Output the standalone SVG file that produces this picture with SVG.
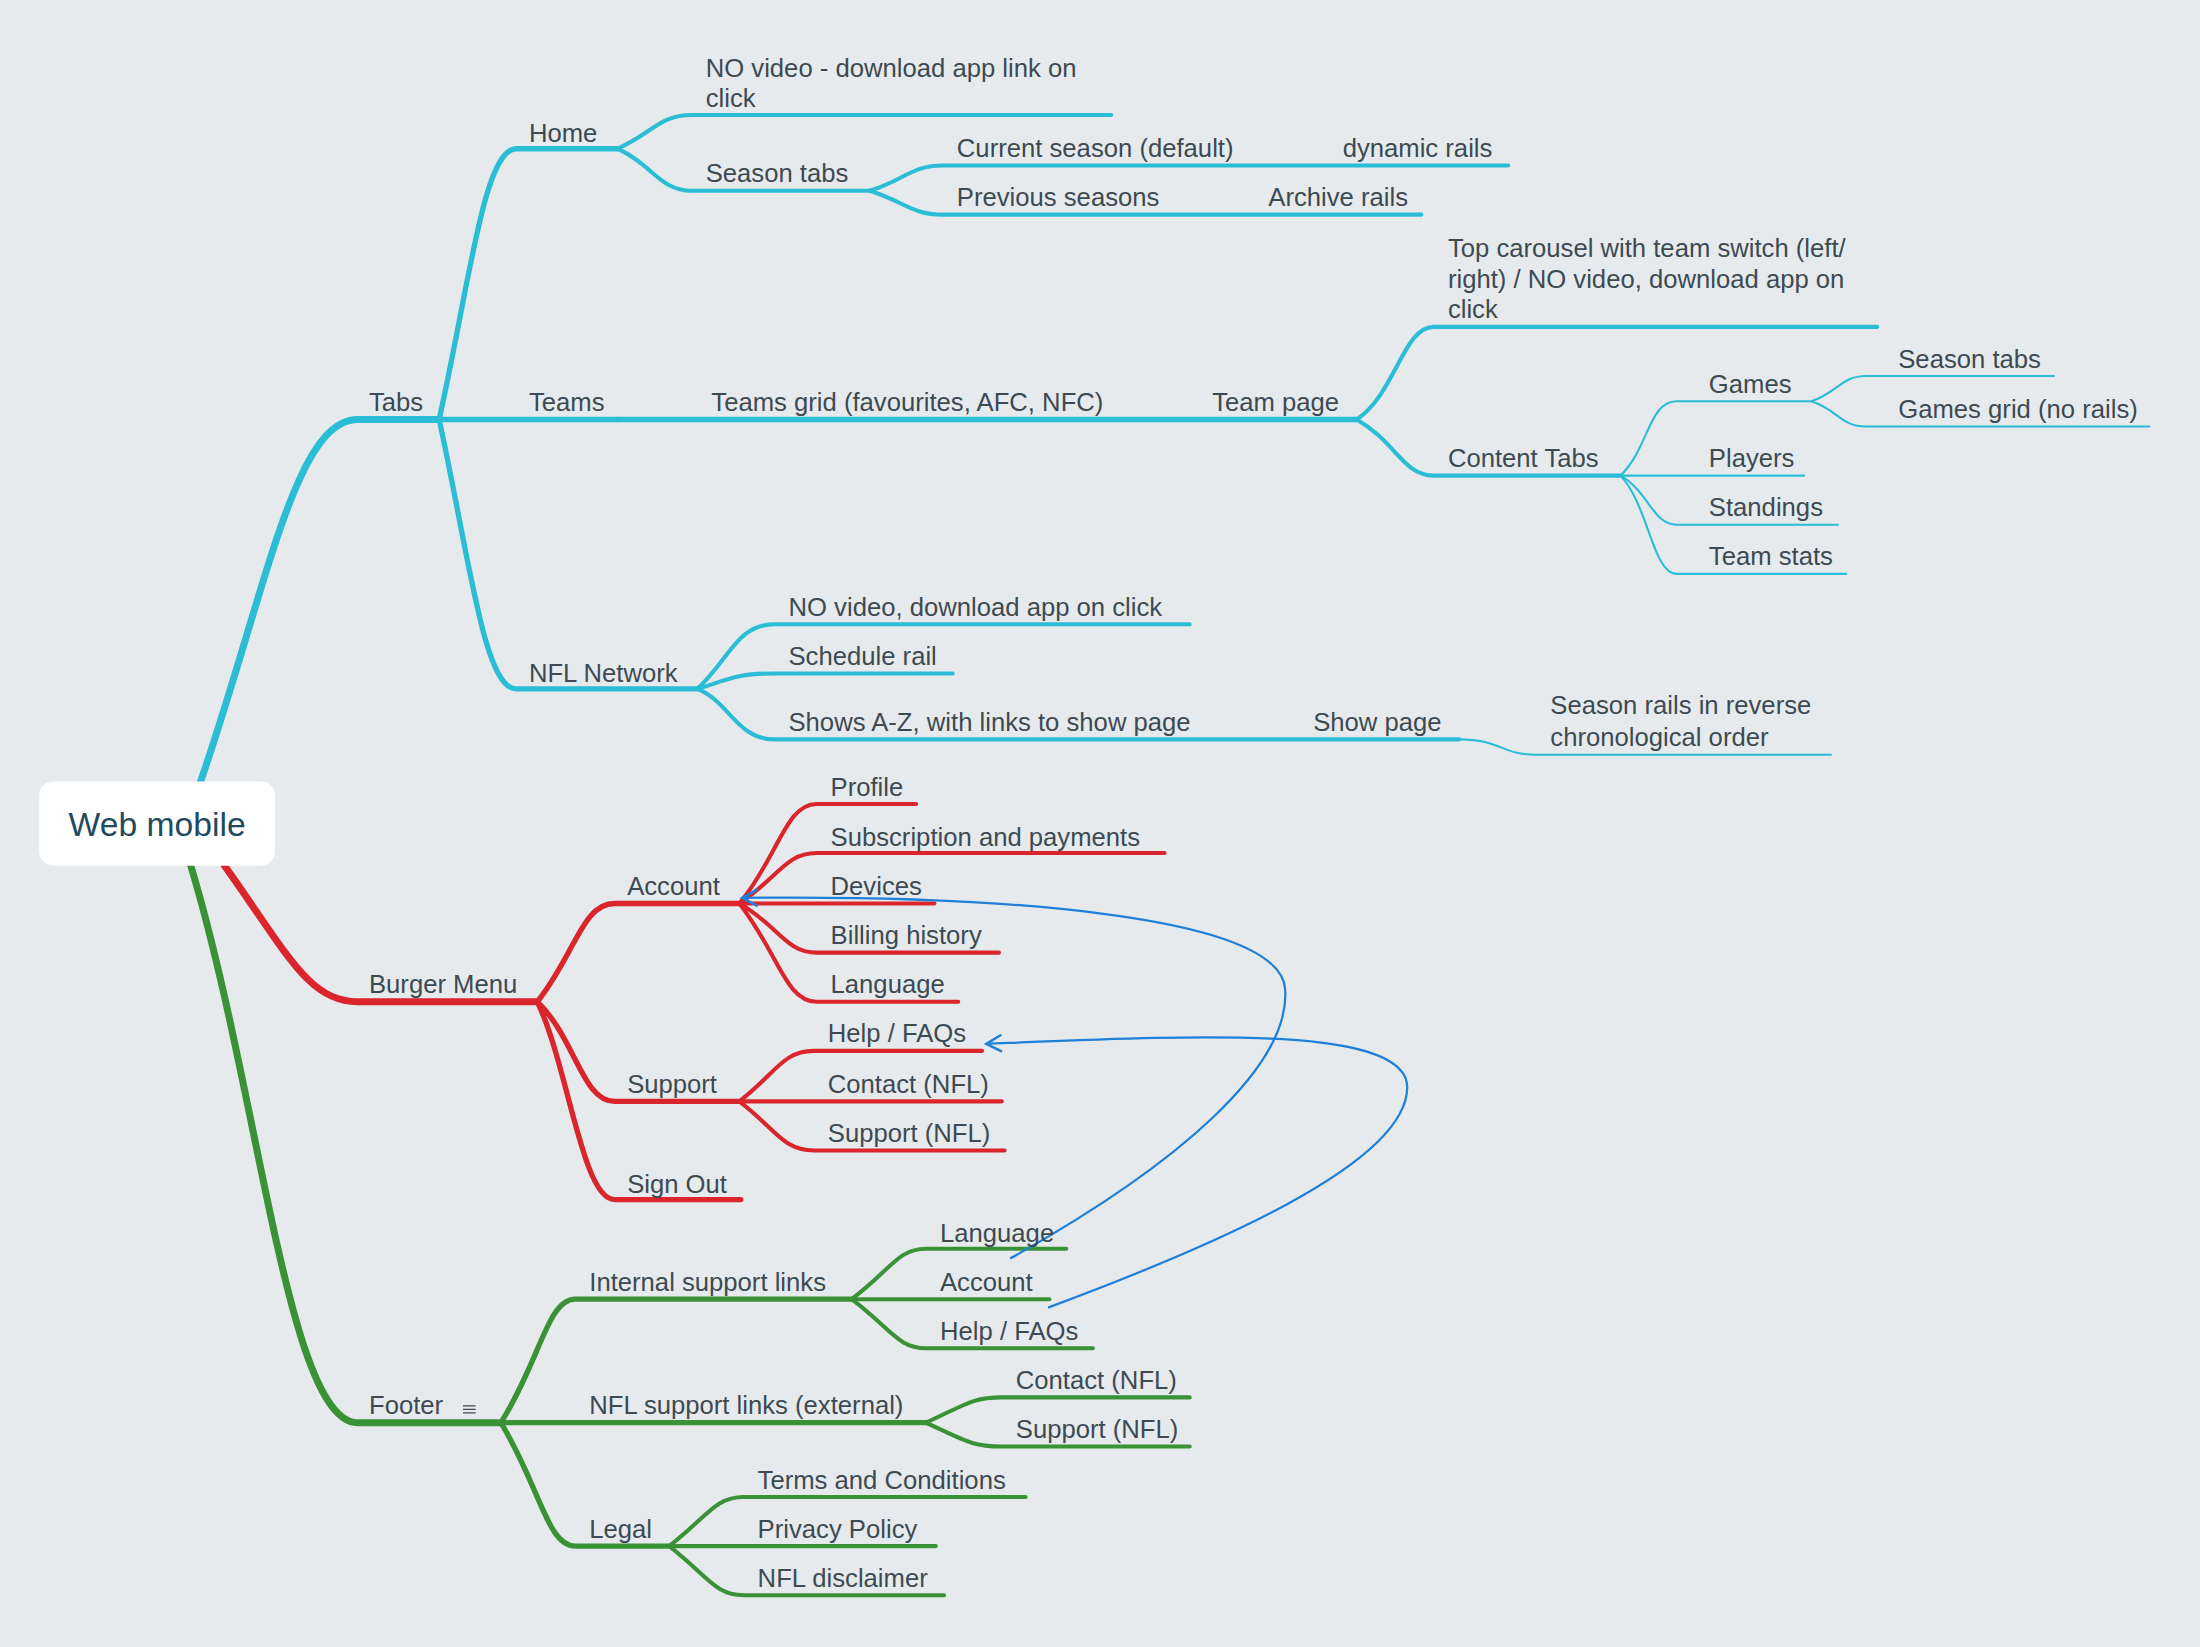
<svg xmlns="http://www.w3.org/2000/svg" width="2200" height="1647" viewBox="0 0 2200 1647">
<style>
text{font-family:"Liberation Sans",Arial,sans-serif;font-size:18.3px;fill:#3d4a52}
.c{fill:none;stroke:#2bbcd6;stroke-linecap:round}
.r{fill:none;stroke:#d9252b;stroke-linecap:round}
.g{fill:none;stroke:#3a9236;stroke-linecap:round}
.w1{stroke-width:5}.w2{stroke-width:3.8}.w3{stroke-width:2.9}.w4{stroke-width:1.5}
.rel{fill:none;stroke:#1e80d8;stroke-width:1.6}
</style>
<defs>
<marker id="ah" markerWidth="14" markerHeight="14" refX="12" refY="7" orient="auto" markerUnits="userSpaceOnUse">
<path d="M1,1 L12,7 L1,13" fill="none" stroke="#1e80d8" stroke-width="1.8"/>
</marker>
</defs>
<rect width="2200" height="1647" fill="#e6eaed"/>
<g transform="scale(1.403)">
<g id="connectors">
<path class="c w1" d="M143,557 C190,420 210,299 255,299 H313"/>
<path class="r w1" d="M160,617 C205,680 220,714 255,714 H383"/>
<path class="g w1" d="M136,617 C185,780 205,1014 255,1014 H357"/>
<path class="c w2" d="M313,299 C335,200 345,106 368,106 H440"/>
<path class="c w2" d="M313,299 H440"/>
<path class="c w2" d="M313,299 C335,400 345,491 368,491 H497"/>
<path class="c w3" d="M440,106 C465,95 470,82 493,82 H792"/>
<path class="c w3" d="M440,106 C465,117 470,136 493,136 H620"/>
<path class="c w3" d="M620,136 C645,128 650,118 672,118 H1075"/>
<path class="c w3" d="M620,136 C645,144 650,153 672,153 H1013"/>
<path class="c w2" d="M440,299 H967"/>
<path class="c w3" d="M967,299 C995,280 1000,233 1022,233 H1338"/>
<path class="c w3" d="M967,299 C995,315 1000,339 1022,339 H1155"/>
<path class="c w4" d="M1155,339 C1175,320 1175,286 1195,286 H1291"/>
<path class="c w4" d="M1155,339 H1286"/>
<path class="c w4" d="M1155,339 C1175,350 1178,374 1195,374 H1310"/>
<path class="c w4" d="M1155,339 C1175,360 1178,409 1195,409 H1316"/>
<path class="c w4" d="M1291,286 C1310,280 1312,268 1330,268 H1464"/>
<path class="c w4" d="M1291,286 C1310,292 1312,304 1330,304 H1532"/>
<path class="c w3" d="M497,491 C520,470 525,445 552,445 H848"/>
<path class="c w3" d="M497,491 C520,484 525,480 552,480 H679"/>
<path class="c w3" d="M497,491 C520,500 525,527 552,527 H1040"/>
<path class="c w4" d="M1040,527 C1070,527 1070,538 1095,538 H1305"/>
<path class="r w2" d="M383,714 C410,680 415,644 438,644 H527"/>
<path class="r w2" d="M383,714 C410,740 415,785 438,785 H527"/>
<path class="r w2" d="M383,714 C405,760 415,855 438,855 H528"/>
<path class="r w3" d="M527,644 C555,610 560,573 582,573 H653"/>
<path class="r w3" d="M527,644 C555,625 560,608 582,608 H830"/>
<path class="r w3" d="M527,644 H666"/>
<path class="r w3" d="M527,644 C555,660 560,679 582,679 H712"/>
<path class="r w3" d="M527,644 C555,680 560,714 582,714 H683"/>
<path class="r w3" d="M527,785 C553,765 558,749 580,749 H700"/>
<path class="r w3" d="M527,785 H714"/>
<path class="r w3" d="M527,785 C553,805 558,820 580,820 H716"/>
<path class="g w2" d="M357,1014 C385,970 390,926 410,926 H607"/>
<path class="g w2" d="M357,1014 H660"/>
<path class="g w2" d="M357,1014 C385,1060 390,1102 410,1102 H477"/>
<path class="g w3" d="M607,926 C635,905 640,890 660,890 H760"/>
<path class="g w3" d="M607,926 H748"/>
<path class="g w3" d="M607,926 C635,947 640,961 660,961 H779"/>
<path class="g w3" d="M660,1014 C690,1000 694,996 714,996 H848"/>
<path class="g w3" d="M660,1014 C690,1028 694,1031 714,1031 H848"/>
<path class="g w3" d="M477,1102 C505,1080 510,1067 530,1067 H731"/>
<path class="g w3" d="M477,1102 H667"/>
<path class="g w3" d="M477,1102 C505,1124 510,1137 530,1137 H673"/>
<path class="rel" d="M720,897 C840,830 920,760 916,705 C912,650 700,638 529,640" marker-end="url(#ah)"/>
<path class="rel" d="M747,932 C860,890 1003,830 1003,775 C1003,730 850,738 703,744" marker-end="url(#ah)"/>
</g>
<g id="root"><rect x="28" y="557" width="168" height="60" rx="10" fill="#fff"/><text x="112" y="596" text-anchor="middle" style="font-size:24px;fill:#1f4a5f">Web mobile</text></g>
<g id="tabs"><text x="263" y="293">Tabs</text></g>
<g id="home"><text x="377" y="101">Home</text></g>
<g id="teams"><text x="377" y="293">Teams</text></g>
<g id="nflnetwork"><text x="377" y="486">NFL Network</text></g>
<g id="novideo"><text x="503" y="55">NO video - download app link on</text><text x="503" y="76">click</text></g>
<g id="seasontabs"><text x="503" y="130">Season tabs</text></g>
<g id="current"><text x="682" y="112">Current season (default)</text></g>
<g id="dynamic"><text x="957" y="112">dynamic rails</text></g>
<g id="previous"><text x="682" y="147">Previous seasons</text></g>
<g id="archive"><text x="904" y="147">Archive rails</text></g>
<g id="teamsgrid"><text x="507" y="293">Teams grid (favourites, AFC, NFC)</text></g>
<g id="teampage"><text x="864" y="293">Team page</text></g>
<g id="carousel"><text x="1032" y="183">Top carousel with team switch (left/</text><text x="1032" y="205">right) / NO video, download app on</text><text x="1032" y="227">click</text></g>
<g id="contenttabs"><text x="1032" y="333">Content Tabs</text></g>
<g id="games"><text x="1218" y="280">Games</text></g>
<g id="seasontabs2"><text x="1353" y="262">Season tabs</text></g>
<g id="gamesgrid"><text x="1353" y="298">Games grid (no rails)</text></g>
<g id="players"><text x="1218" y="333">Players</text></g>
<g id="standings"><text x="1218" y="368">Standings</text></g>
<g id="teamstats"><text x="1218" y="403">Team stats</text></g>
<g id="novideo2"><text x="562" y="439">NO video, download app on click</text></g>
<g id="schedule"><text x="562" y="474">Schedule rail</text></g>
<g id="shows"><text x="562" y="521">Shows A-Z, with links to show page</text></g>
<g id="showpage"><text x="936" y="521">Show page</text></g>
<g id="seasonrails"><text x="1105" y="509">Season rails in reverse</text><text x="1105" y="532">chronological order</text></g>
<g id="burger"><text x="263" y="708">Burger Menu</text></g>
<g id="account"><text x="447" y="638">Account</text></g>
<g id="support"><text x="447" y="779">Support</text></g>
<g id="signout"><text x="447" y="850">Sign Out</text></g>
<g id="profile"><text x="592" y="567">Profile</text></g>
<g id="subscription"><text x="592" y="603">Subscription and payments</text></g>
<g id="devices"><text x="592" y="638">Devices</text></g>
<g id="billing"><text x="592" y="673">Billing history</text></g>
<g id="language"><text x="592" y="708">Language</text></g>
<g id="help"><text x="590" y="743">Help / FAQs</text></g>
<g id="contact"><text x="590" y="779">Contact (NFL)</text></g>
<g id="supportnfl"><text x="590" y="814">Support (NFL)</text></g>
<g id="footer"><text x="263" y="1008">Footer</text><path d="M330,1002 h9 M330,1004.5 h9 M330,1007 h9" stroke="#3d4a52" stroke-width="0.9"/></g>
<g id="internal"><text x="420" y="920">Internal support links</text></g>
<g id="nflsupport"><text x="420" y="1008">NFL support links (external)</text></g>
<g id="legal"><text x="420" y="1096">Legal</text></g>
<g id="flanguage"><text x="670" y="885">Language</text></g>
<g id="faccount"><text x="670" y="920">Account</text></g>
<g id="fhelp"><text x="670" y="955">Help / FAQs</text></g>
<g id="fcontact"><text x="724" y="990">Contact (NFL)</text></g>
<g id="fsupport"><text x="724" y="1025">Support (NFL)</text></g>
<g id="terms"><text x="540" y="1061">Terms and Conditions</text></g>
<g id="privacy"><text x="540" y="1096">Privacy Policy</text></g>
<g id="disclaimer"><text x="540" y="1131">NFL disclaimer</text></g>
</g>
</svg>
